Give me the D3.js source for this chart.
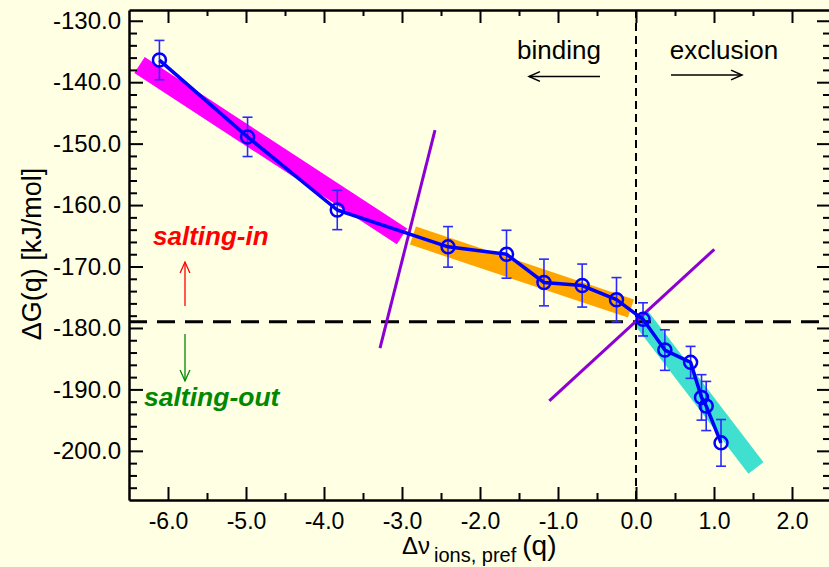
<!DOCTYPE html>
<html>
<head>
<meta charset="utf-8">
<script src="https://cdn.jsdelivr.net/npm/d3@7/dist/d3.min.js"></script>
<style>
  html, body { margin: 0; padding: 0; background: #ffffe3; }
  svg { display: block; font-family: "Liberation Sans", Arial, Helvetica, sans-serif; }
</style>
</head>
<body>
<svg id="chart" width="829" height="567"></svg>
<script>
// Preferential ion-interaction parameter vs. solvation free energy
const dNu   = [-6.11, -4.98, -3.83, -2.41, -1.66, -1.18, -0.69, -0.25, 0.09, 0.37, 0.70, 0.84, 0.90, 1.09];
const dG    = [-136.4, -148.9, -160.8, -166.8, -168.0, -172.6, -173.1, -175.4, -178.6, -183.6, -185.6, -191.3, -192.7, -198.7];
const dGErr = [3.2, 3.2, 3.2, 3.3, 3.9, 3.8, 3.5, 3.6, 2.7, 3.3, 2.6, 3.7, 4.0, 3.8];

// Linear fits for the three regimes: [x0, y0, x1, y1]
const fitBands = [
  { seg: [-6.365, -137.2, -3.0, -165.1], color: "#ff00ff" },
  { seg: [-2.86, -164.95, -0.065, -176.85], color: "#ffa500" },
  { seg: [0.064, -178.3, 1.538, -202.8], color: "#40e0d0" }
];
// Crossing guides between regimes
const guides = [
  [-3.282, -183.3, -2.577, -147.8],
  [-1.112, -191.85, 1.004, -167.2]
];
const refG = -179.0;   // reference level
const refNu = 0.0;

const xMajor = [-6, -5, -4, -3, -2, -1, 0, 1, 2];
const yMajor = [-130, -140, -150, -160, -170, -180, -190, -200];

const svg = d3.select("#chart");
const x = d3.scaleLinear().domain([-6.5, 2.5]).range([129, 831]);
const y = d3.scaleLinear().domain([-128.25, -208]).range([10, 500]);
const fmt = d => d.toFixed(1);

const xMinor = d3.range(-6.0, 2.51, 0.5).filter(v => Math.abs(v - Math.round(v)) > 0.1);
const yMinor = d3.range(-206, -129, 2).filter(v => v % 10 !== 0);

// fit bands
svg.append("g").selectAll("line").data(fitBands).join("line")
  .attr("x1", d => x(d.seg[0])).attr("y1", d => y(d.seg[1]))
  .attr("x2", d => x(d.seg[2])).attr("y2", d => y(d.seg[3]))
  .attr("stroke", d => d.color).attr("stroke-width", 19).attr("stroke-linecap", "butt");

// reference lines
svg.append("line")
  .attr("x1", x(-6.5)).attr("x2", x(2.5)).attr("y1", y(refG)).attr("y2", y(refG))
  .attr("stroke", "#000").attr("stroke-width", 3).attr("stroke-dasharray", "18,10");
svg.append("line")
  .attr("x1", x(refNu)).attr("x2", x(refNu)).attr("y1", y(-128.25)).attr("y2", y(-208))
  .attr("stroke", "#000").attr("stroke-width", 2).attr("stroke-dasharray", "8,5");

// guides
svg.append("g").selectAll("line").data(guides).join("line")
  .attr("x1", d => x(d[0])).attr("y1", d => y(d[1]))
  .attr("x2", d => x(d[2])).attr("y2", d => y(d[3]))
  .attr("stroke", "#8c00d4").attr("stroke-width", 3);

// axes (ticks pointing inward)
const axisStyle = g => {
  g.select(".domain").attr("stroke-width", 2.5);
  g.selectAll(".tick line").attr("stroke-width", 2);
  g.selectAll("text").attr("fill", "#000");
};
svg.append("g").attr("transform", `translate(0,${y(-208)})`)
  .call(d3.axisBottom(x).tickValues(xMajor).tickFormat(fmt).tickSizeInner(-13).tickSizeOuter(0).tickPadding(13))
  .call(axisStyle)
  .call(g => g.selectAll("text").attr("font-size", 23).attr("dy", "0.71em"));
svg.append("g").attr("transform", `translate(0,${y(-208)})`)
  .call(d3.axisBottom(x).tickValues(xMinor).tickFormat("").tickSizeInner(-7).tickSizeOuter(0))
  .call(axisStyle).call(g => g.select(".domain").remove());
svg.append("g").attr("transform", `translate(0,${y(-128.25)})`)
  .call(d3.axisTop(x).tickValues(xMajor).tickFormat("").tickSizeInner(-13).tickSizeOuter(0))
  .call(axisStyle);
svg.append("g").attr("transform", `translate(0,${y(-128.25)})`)
  .call(d3.axisTop(x).tickValues(xMinor).tickFormat("").tickSizeInner(-6).tickSizeOuter(0))
  .call(axisStyle).call(g => g.select(".domain").remove());
svg.append("g").attr("transform", `translate(${x(-6.5)},0)`)
  .call(d3.axisLeft(y).tickValues(yMajor).tickFormat(fmt).tickSizeInner(-14).tickSizeOuter(0).tickPadding(8))
  .call(axisStyle)
  .call(g => g.selectAll("text").attr("font-size", 24));
svg.append("g").attr("transform", `translate(${x(-6.5)},0)`)
  .call(d3.axisLeft(y).tickValues(yMinor).tickFormat("").tickSizeInner(-8).tickSizeOuter(0))
  .call(axisStyle).call(g => g.select(".domain").remove());
svg.append("g").attr("transform", `translate(${x(2.5)},0)`)
  .call(d3.axisRight(y).tickValues(yMajor).tickFormat("").tickSizeInner(-14).tickSizeOuter(0))
  .call(axisStyle);
svg.append("g").attr("transform", `translate(${x(2.5)},0)`)
  .call(d3.axisRight(y).tickValues(yMinor).tickFormat("").tickSizeInner(-8).tickSizeOuter(0))
  .call(axisStyle).call(g => g.select(".domain").remove());

// data: error bars, connecting line, open circles
const pts = dNu.map((v, i) => ({ v, g: dG[i], e: dGErr[i] }));
const eb = svg.append("g").attr("stroke", "#2a2aff").attr("stroke-width", 1.6);
pts.forEach(p => {
  eb.append("line").attr("x1", x(p.v)).attr("x2", x(p.v)).attr("y1", y(p.g - p.e)).attr("y2", y(p.g + p.e));
  eb.append("line").attr("x1", x(p.v) - 5).attr("x2", x(p.v) + 5).attr("y1", y(p.g - p.e)).attr("y2", y(p.g - p.e));
  eb.append("line").attr("x1", x(p.v) - 5).attr("x2", x(p.v) + 5).attr("y1", y(p.g + p.e)).attr("y2", y(p.g + p.e));
});
svg.append("path").datum(pts)
  .attr("d", d3.line().x(d => x(d.v)).y(d => y(d.g)))
  .attr("fill", "none").attr("stroke", "#0000ff").attr("stroke-width", 3.5).attr("stroke-linejoin", "round");
svg.append("g").selectAll("circle").data(pts).join("circle")
  .attr("cx", d => x(d.v)).attr("cy", d => y(d.g)).attr("r", 6.5)
  .attr("fill", "none").attr("stroke", "#0000ff").attr("stroke-width", 2.5);

// arrows
function arrow(x1, y1, x2, y2, color, w) {
  const a = Math.atan2(y2 - y1, x2 - x1), L = 12, s = 0.42;
  const g = svg.append("g").attr("stroke", color).attr("stroke-width", w).attr("fill", "none");
  g.append("line").attr("x1", x1).attr("y1", y1).attr("x2", x2).attr("y2", y2);
  g.append("path").attr("d",
    `M${x2 - L * Math.cos(a - s)},${y2 - L * Math.sin(a - s)}L${x2},${y2}L${x2 - L * Math.cos(a + s)},${y2 - L * Math.sin(a + s)}`);
}
arrow(600, 76.5, 529, 76.5, "#000", 1.5);
arrow(671, 75, 742, 75, "#000", 1.5);
arrow(185, 306, 185, 262, "#ff0000", 1.3);
arrow(185, 334, 185, 381, "#008800", 1.3);

// annotations
svg.append("text").attr("x", 559).attr("y", 59).attr("text-anchor", "middle")
  .attr("font-size", 26).text("binding");
svg.append("text").attr("x", 724).attr("y", 59).attr("text-anchor", "middle")
  .attr("font-size", 26).text("exclusion");
svg.append("text").attr("x", 153).attr("y", 245).attr("font-size", 26)
  .attr("font-weight", "bold").attr("font-style", "italic").attr("fill", "#ff0000").text("salting-in");
svg.append("text").attr("x", 144).attr("y", 406).attr("font-size", 26.5)
  .attr("font-weight", "bold").attr("font-style", "italic").attr("fill", "#008800").text("salting-out");

// axis titles
svg.append("text").attr("transform", "translate(41,254) rotate(-90)")
  .attr("text-anchor", "middle").attr("font-size", 27).text("ΔG(q) [kJ/mol]");
const xt = svg.append("text").attr("x", 402).attr("y", 554).attr("font-size", 24);
xt.append("tspan").text("Δν");
xt.append("tspan").attr("font-size", 20).attr("dy", 8).attr("dx", 4).text("ions, pref");
xt.append("tspan").attr("font-size", 28).attr("dy", -7).attr("dx", 6).text("(q)");
</script>
</body>
</html>
